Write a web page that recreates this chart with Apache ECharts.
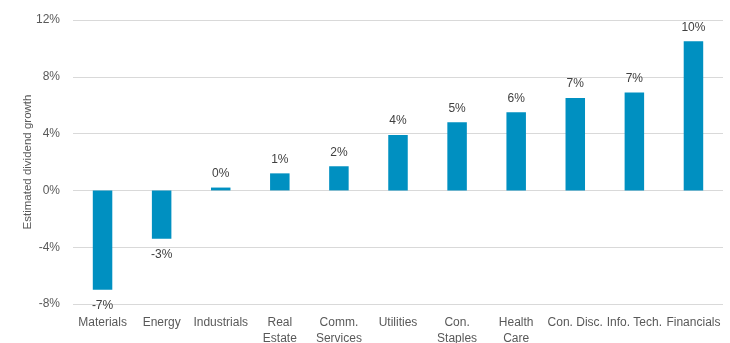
<!DOCTYPE html>
<html>
<head>
<meta charset="utf-8">
<script src="https://cdn.jsdelivr.net/npm/echarts@6/dist/echarts.min.js"></script>
<style>
  html, body { margin: 0; padding: 0; background: #fff; }
  #chart { width: 730px; height: 343px; }
</style>
</head>
<body>
<div id="chart"></div>
<script>
// sectors and estimated dividend growth (%)
var sectors = ['Materials', 'Energy', 'Industrials', 'Real\nEstate', 'Comm.\nServices',
  'Utilities', 'Con.\nStaples', 'Health\nCare', 'Con. Disc.', 'Info. Tech.', 'Financials'];
var growth = [-7.0, -3.4, 0.2, 1.2, 1.7, 3.9, 4.8, 5.5, 6.5, 6.9, 10.5];
var growthLabels = ['-7%', '-3%', '0%', '1%', '2%', '4%', '5%', '6%', '7%', '7%', '10%'];
var yTicks = { min: -8, max: 12, interval: 4 };

var textColor = '#595959';
var font = 'Liberation Sans, Arial, sans-serif';

// negative bars get their label underneath
var seriesData = growth.map(function (v) {
    return {
        value: v,
        label: v < 0 ? { position: 'bottom', distance: 10 } : { position: 'top', distance: 8 }
    };
});

var chart = echarts.init(document.getElementById('chart'));
chart.setOption({
    animation: false,
    grid: { left: 73, right: 7, top: 20, bottom: 39, outerBoundsMode: 'none', containLabel: false },
    xAxis: {
        type: 'category',
        data: sectors,
        position: 'bottom',
        axisLine: { show: false, onZero: false },
        axisTick: { show: false },
        axisLabel: {
            interval: 0,
            color: textColor,
            fontFamily: font,
            fontSize: 12,
            lineHeight: 16,
            margin: 11
        }
    },
    yAxis: {
        type: 'value',
        min: yTicks.min,
        max: yTicks.max,
        interval: yTicks.interval,
        name: 'Estimated dividend growth',
        nameLocation: 'middle',
        nameGap: 39,
        nameMoveOverlap: false,
        nameTextStyle: { color: textColor, fontFamily: font, fontSize: 11.5 },
        axisLine: { show: false },
        axisTick: { show: false },
        axisLabel: {
            formatter: '{value}%',
            color: textColor,
            fontFamily: font,
            fontSize: 12,
            margin: 13
        },
        splitLine: { lineStyle: { color: '#d9d9d9', width: 1 } }
    },
    series: [{
        type: 'bar',
        data: seriesData,
        barWidth: '33%',
        itemStyle: { color: '#0090c1' },
        label: {
            show: true,
            color: '#404040',
            fontFamily: font,
            fontSize: 12,
            formatter: function (p) { return growthLabels[p.dataIndex]; }
        }
    }]
});
</script>
</body>
</html>
